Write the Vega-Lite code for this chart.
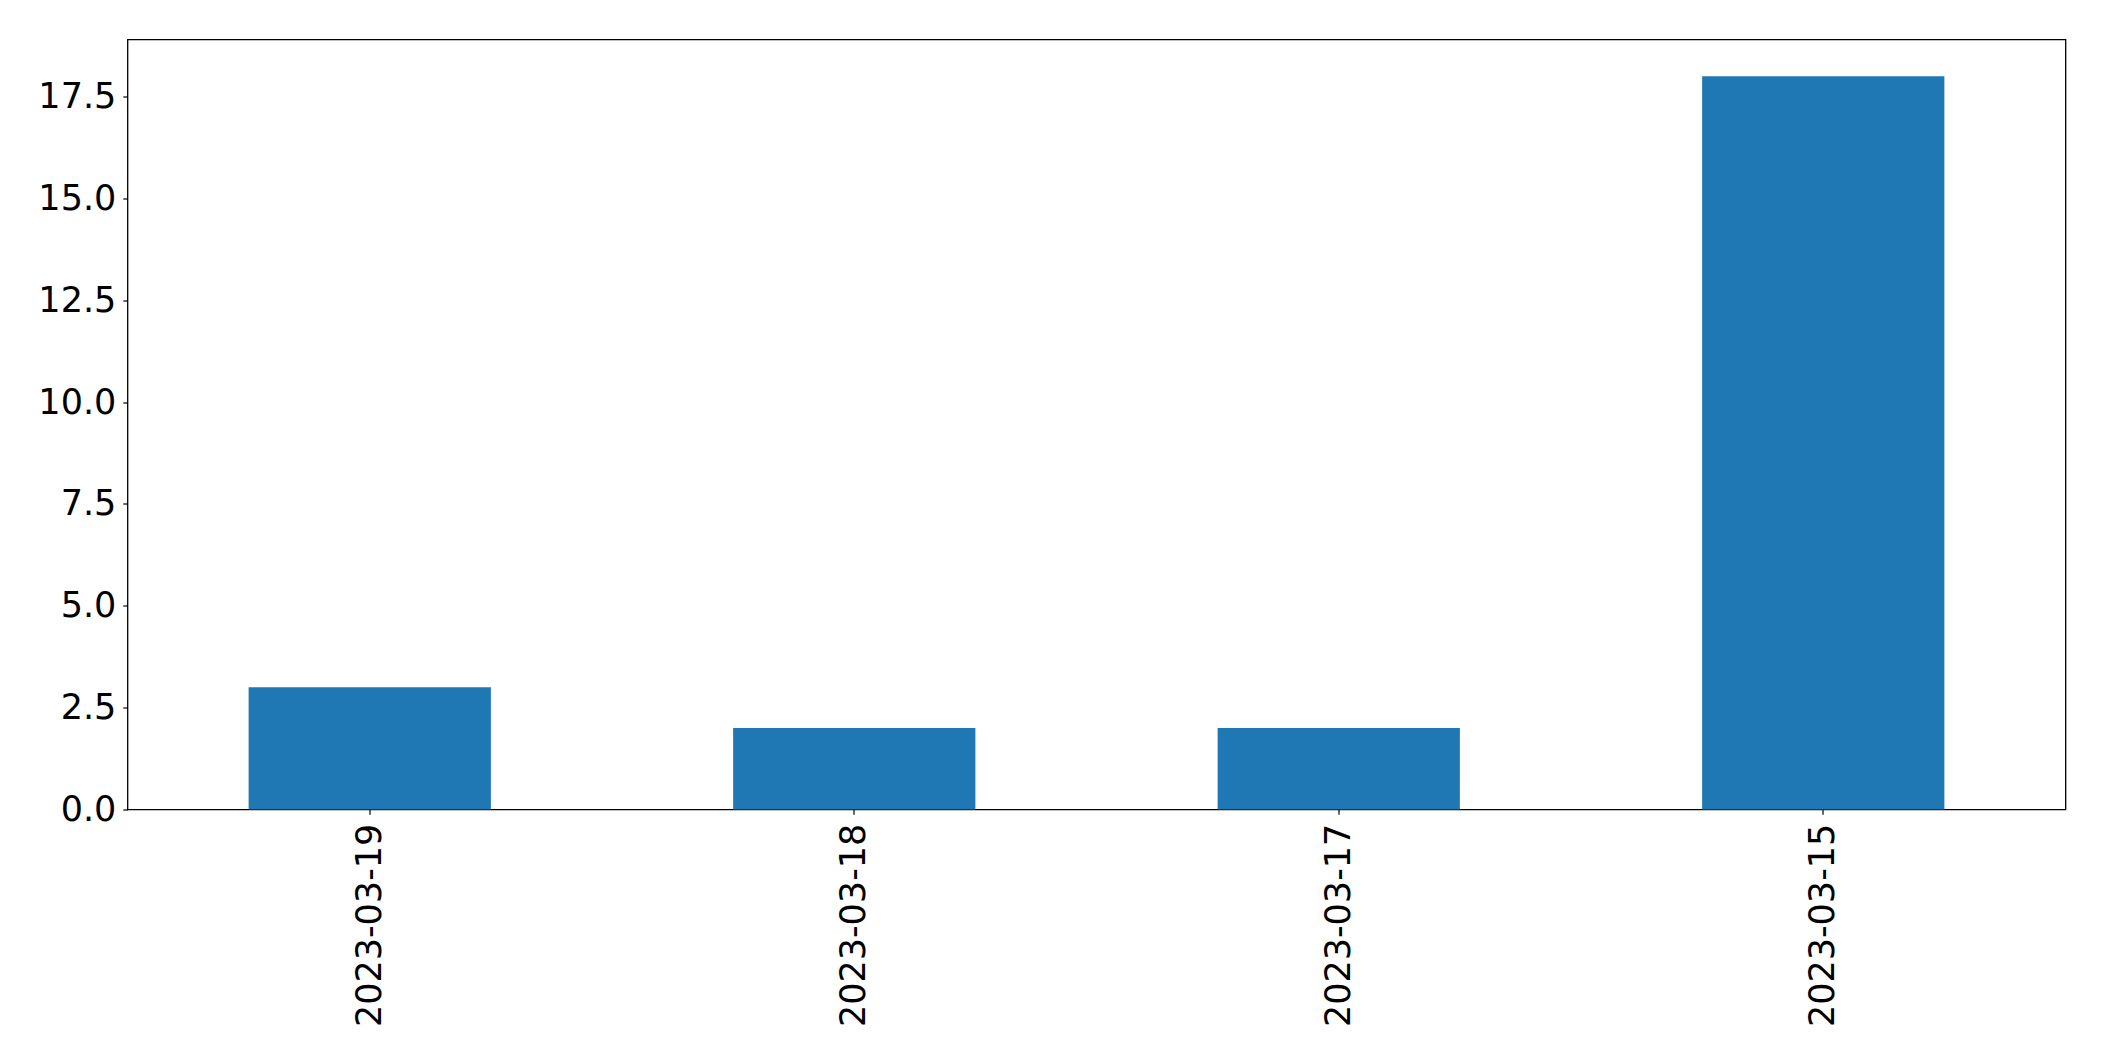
{
  "$schema": "https://vega.github.io/schema/vega-lite/v6.json",
  "autosize": {"type": "none"},
  "padding": {"left": 127.5, "top": 39.5, "right": 38.5, "bottom": 251.5},
  "width": 1938,
  "height": 770,
  "background": "white",
  "config": {
    "view": {"stroke": "black", "strokeWidth": 1.3},
    "font": "DejaVu Sans",
    "axis": {
      "labelFont": "DejaVu Sans",
      "labelFontSize": 35,
      "labelColor": "black",
      "labelLimit": 0,
      "tickColor": "black",
      "tickSize": 4.7,
      "tickWidth": 1.2,
      "domain": false,
      "grid": false,
      "title": null
    }
  },
  "data": {
    "values": [
      {"date": "2023-03-19", "count": 3},
      {"date": "2023-03-18", "count": 2},
      {"date": "2023-03-17", "count": 2},
      {"date": "2023-03-15", "count": 18}
    ]
  },
  "mark": {"type": "bar", "color": "#1f77b4"},
  "encoding": {
    "x": {
      "field": "date",
      "type": "nominal",
      "sort": null,
      "scale": {"paddingInner": 0.5, "paddingOuter": 0.25},
      "axis": {"labelAngle": 270, "labelAlign": "right", "labelBaseline": "middle", "labelPadding": 9}
    },
    "y": {
      "field": "count",
      "type": "quantitative",
      "scale": {"domain": [0, 18.9], "nice": false, "zero": true},
      "axis": {"values": [0, 2.5, 5, 7.5, 10, 12.5, 15, 17.5], "format": ".1f", "labelPadding": 7}
    }
  }
}
